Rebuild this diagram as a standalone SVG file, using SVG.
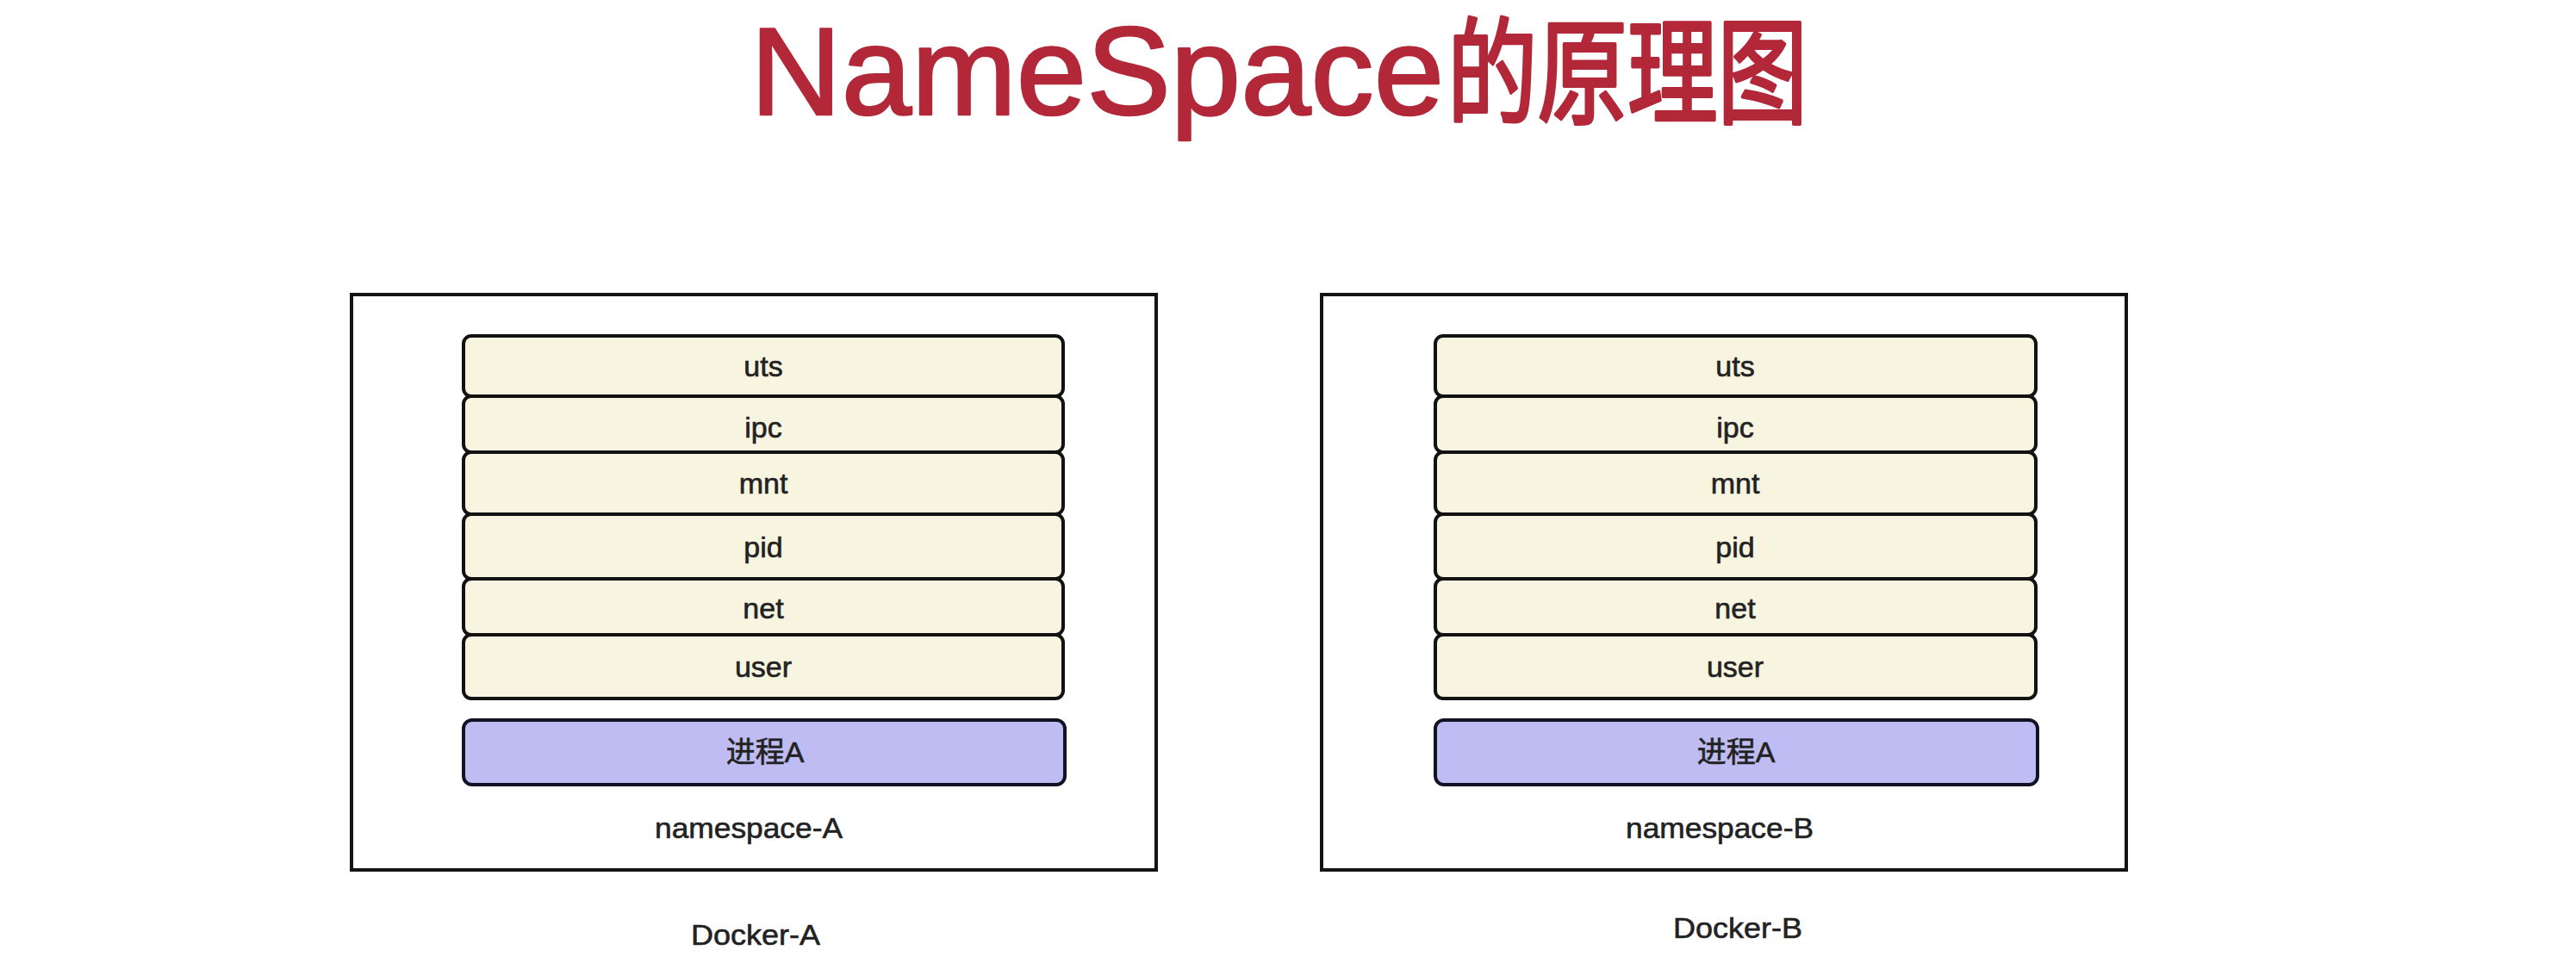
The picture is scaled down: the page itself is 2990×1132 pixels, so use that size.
<svg xmlns="http://www.w3.org/2000/svg" width="2990" height="1132" viewBox="0 0 2990 1132">
<style>
.bg{fill:#ffffff}
.outer{fill:#ffffff;stroke:#141414;stroke-width:4}
.layer{fill:#F7F4DF;stroke:#121212;stroke-width:4}
.proc{fill:#BEBCF2;stroke:#121225;stroke-width:4}
.lbl{font-family:"Liberation Sans","Noto Sans CJK SC",sans-serif;font-size:34px;fill:#222222;stroke:#222222;stroke-width:0.6;text-anchor:middle}
.title{font-family:"Liberation Sans","Noto Sans CJK SC",sans-serif;fill:#B32839;stroke:#B32839;stroke-linejoin:round}
</style>
<rect class="bg" x="0" y="0" width="2990" height="1132"/>
<g id="title">
<text class="title" x="871" y="133" font-size="145" stroke-width="2.5" textLength="805" lengthAdjust="spacingAndGlyphs">NameSpace</text>
<text class="title" x="1680" y="133" font-size="134" stroke-width="4" textLength="418" lengthAdjust="spacingAndGlyphs">的原理图</text>
</g>
<g id="docker-a">
<g id="namespace-a">
<rect class="outer" x="408" y="342" width="934" height="668"/>
<g id="a-uts"><rect class="layer" x="538" y="390" width="696" height="70" rx="9"/><text class="lbl" x="886" y="437">uts</text></g>
<g id="a-ipc"><rect class="layer" x="538" y="460" width="696" height="65" rx="9"/><text class="lbl" x="886" y="508">ipc</text></g>
<g id="a-mnt"><rect class="layer" x="538" y="525" width="696" height="72" rx="9"/><text class="lbl" x="886" y="573">mnt</text></g>
<g id="a-pid"><rect class="layer" x="538" y="597" width="696" height="75" rx="9"/><text class="lbl" x="886" y="647">pid</text></g>
<g id="a-net"><rect class="layer" x="538" y="672" width="696" height="65" rx="9"/><text class="lbl" x="886" y="718">net</text></g>
<g id="a-user"><rect class="layer" x="538" y="737" width="696" height="74" rx="9"/><text class="lbl" x="886" y="786">user</text></g>
<g id="a-proc"><rect class="proc" x="538" y="836" width="698" height="75" rx="10"/><text class="lbl" x="888" y="885">进程A</text></g>
<text class="lbl" x="869" y="973" textLength="218" lengthAdjust="spacingAndGlyphs">namespace-A</text>
</g>
<text class="lbl" x="877" y="1097" textLength="150" lengthAdjust="spacingAndGlyphs">Docker-A</text>
</g>
<g id="docker-b">
<g id="namespace-b">
<rect class="outer" x="1534" y="342" width="934" height="668"/>
<g id="b-uts"><rect class="layer" x="1666" y="390" width="697" height="70" rx="9"/><text class="lbl" x="2014" y="437">uts</text></g>
<g id="b-ipc"><rect class="layer" x="1666" y="460" width="697" height="65" rx="9"/><text class="lbl" x="2014" y="508">ipc</text></g>
<g id="b-mnt"><rect class="layer" x="1666" y="525" width="697" height="72" rx="9"/><text class="lbl" x="2014" y="573">mnt</text></g>
<g id="b-pid"><rect class="layer" x="1666" y="597" width="697" height="75" rx="9"/><text class="lbl" x="2014" y="647">pid</text></g>
<g id="b-net"><rect class="layer" x="1666" y="672" width="697" height="65" rx="9"/><text class="lbl" x="2014" y="718">net</text></g>
<g id="b-user"><rect class="layer" x="1666" y="737" width="697" height="74" rx="9"/><text class="lbl" x="2014" y="786">user</text></g>
<g id="b-proc"><rect class="proc" x="1666" y="836" width="699" height="75" rx="10"/><text class="lbl" x="2015" y="885">进程A</text></g>
<text class="lbl" x="1996" y="973" textLength="218" lengthAdjust="spacingAndGlyphs">namespace-B</text>
</g>
<text class="lbl" x="2017" y="1089" textLength="150" lengthAdjust="spacingAndGlyphs">Docker-B</text>
</g>
</svg>
